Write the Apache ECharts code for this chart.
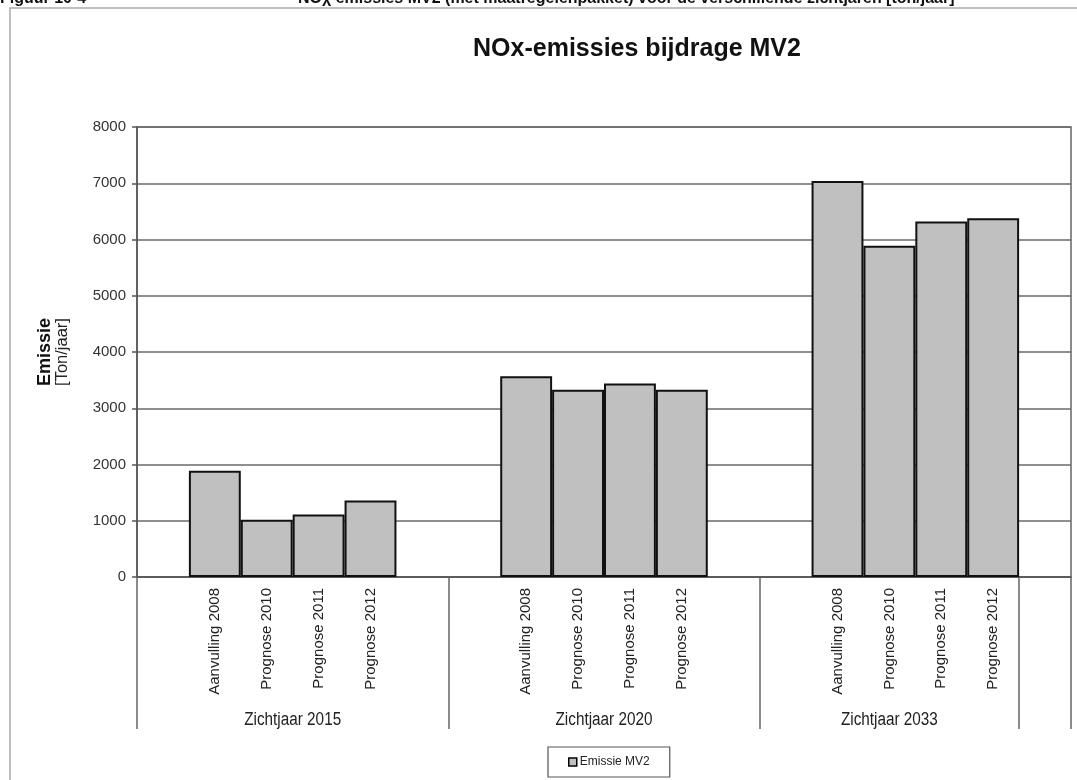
<!DOCTYPE html>
<html><head><meta charset="utf-8">
<script src="https://cdn.jsdelivr.net/npm/echarts@6/dist/echarts.min.js"></script>
<style>html,body{margin:0;padding:0;background:#fff}#c{width:1077px;height:780px}</style>
</head><body><div id="c"></div>
<script>
// ---- data ----
const groups = ['Zichtjaar 2015', 'Zichtjaar 2020', 'Zichtjaar 2033'];
const scenarios = ['Aanvulling 2008', 'Prognose 2010', 'Prognose 2011', 'Prognose 2012'];
const emission2015 = [1890, 1020, 1110, 1360];
const emission2020 = [3570, 3330, 3440, 3330];
const emission2033 = [7040, 5890, 6320, 6380];
const yTicks = [0, 1000, 2000, 3000, 4000, 5000, 6000, 7000, 8000];
const seriesName = 'Emissie MV2';
const chartTitle = 'NOx-emissies bijdrage MV2';

// ---- build category slots (blank slot before each group, after groups 1 and 2, and one trailing) ----
const groupValues = [emission2015, emission2020, emission2033];
const slotKeys = [], slotLabels = [], slotValues = [], groupSpans = [];
groupValues.forEach((vals, g) => {
  const start = slotKeys.length;
  slotKeys.push('g' + g + '-pre'); slotLabels.push(''); slotValues.push('-');
  scenarios.forEach((s, i) => { slotKeys.push('g' + g + '-s' + i); slotLabels.push(s); slotValues.push(vals[i]); });
  if (g < groupValues.length - 1) { slotKeys.push('g' + g + '-post'); slotLabels.push(''); slotValues.push('-'); }
  groupSpans.push([start, slotKeys.length - 1]);
});
slotKeys.push('tail'); slotLabels.push(''); slotValues.push('-');
const boundaries = groupSpans.map(s => s[0]).concat([slotKeys.length - 1]);

const FONT = "'Liberation Sans', Arial, sans-serif";

const chart = echarts.init(document.getElementById('c'), null, {renderer: 'canvas'});
const option = {
  animation: false,
  backgroundColor: '#fff',
  title: {
    text: chartTitle, left: 632, top: 32, textAlign: 'center',
    textStyle: {fontFamily: FONT, fontSize: 25, fontWeight: 'bold', color: '#111'}
  },
  legend: {
    data: [seriesName], left: 548, top: 747, orient: 'horizontal',
    padding: [9, 20], itemWidth: 8, itemHeight: 8, itemGap: 0,
    borderColor: '#555', borderWidth: 1.2,
    icon: 'rect',
    itemStyle: {color: '#c0c0c0', borderColor: '#000', borderWidth: 1.5},
    textStyle: {fontFamily: FONT, fontSize: 12, color: '#222', padding: [0, 0, 0, -2]}
  },
  grid: {left: 137, right: 6, top: 127, bottom: 203, show: true, borderColor: '#666', borderWidth: 1.5, backgroundColor: 'transparent'},
  xAxis: {
    type: 'category', data: slotKeys, boundaryGap: true,
    axisLine: {lineStyle: {color: '#555', width: 1.5}},
    axisTick: {show: true, length: 152, interval: (i) => boundaries.indexOf(i) >= 0, lineStyle: {color: '#666', width: 1.5}},
    axisLabel: {interval: 0, rotate: 90, margin: 11, fontFamily: FONT, fontSize: 15, color: '#222',
      formatter: (v, i) => slotLabels[i]}
  },
  yAxis: {
    type: 'value', min: yTicks[0], max: yTicks[yTicks.length - 1], interval: yTicks[1] - yTicks[0],
    axisLine: {show: true, lineStyle: {color: '#555', width: 1.5}},
    axisTick: {show: true, length: 5, lineStyle: {color: '#555', width: 1.5}},
    axisLabel: {fontFamily: FONT, fontSize: 15, color: '#333', margin: 11, formatter: (v) => String(v)},
    splitLine: {lineStyle: {color: '#6a6a6a', width: 1.5}},
    name: '{b|Emissie}\n{n|[Ton/jaar]}', nameLocation: 'middle', nameRotate: 90, nameGap: 67,
    nameTextStyle: {rich: {
      b: {fontFamily: FONT, fontSize: 18, fontWeight: 'bold', color: '#111', lineHeight: 17},
      n: {fontFamily: FONT, fontSize: 16.5, color: '#222', lineHeight: 16}
    }}
  },
  series: [{
    name: seriesName, type: 'bar', data: slotValues, barCategoryGap: '0%',
    itemStyle: {color: '#c0c0c0', borderColor: '#111', borderWidth: 2}
  }]
};
chart.setOption(option);

// group labels positioned from the category scale
const graphics = [];
groupSpans.forEach((span, g) => {
  const a = chart.convertToPixel({xAxisIndex: 0}, slotKeys[span[0]]);
  const b = chart.convertToPixel({xAxisIndex: 0}, slotKeys[span[1]]);
  graphics.push({type: 'text', x: (a + b) / 2, y: 720, scaleX: 0.85,
    style: {text: groups[g], x: 0, y: 0, textAlign: 'center', textVerticalAlign: 'middle', font: '18px ' + FONT, fill: '#222'}});
});
// outer frame and top caption
graphics.push({type: 'rect', shape: {x: 10, y: 8, width: 1100, height: 800}, style: {fill: 'none', stroke: '#aaa', lineWidth: 1.5}, z: -1});
graphics.push({type: 'text', x: 0, y: 7, style: {text: 'Figuur 10-4', textVerticalAlign: 'bottom', font: 'bold 16px ' + FONT, fill: '#111'}});
graphics.push({type: 'text', x: 298, y: 7, style: {text: 'NOχ emissies MV2 (met maatregelenpakket) voor de verschillende zichtjaren [ton/jaar]', textVerticalAlign: 'bottom', font: 'bold 16px ' + FONT, fill: '#111'}});
chart.setOption({graphic: graphics});
</script></body></html>
